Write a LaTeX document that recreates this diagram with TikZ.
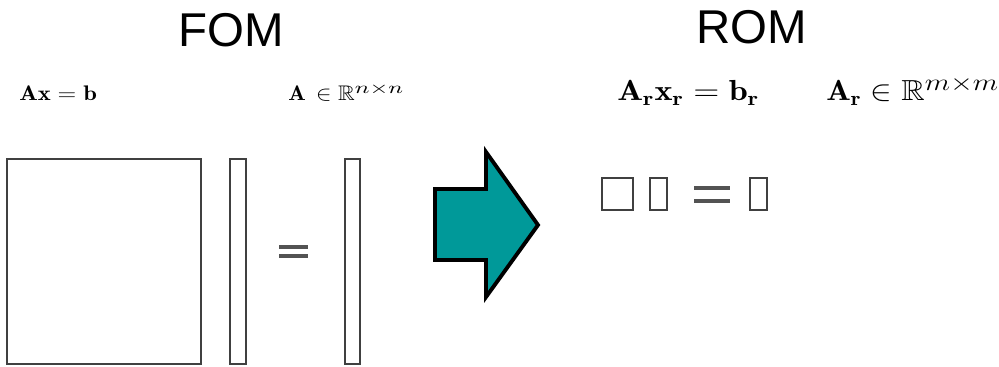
\documentclass[tikz,border=0pt]{standalone}
\usepackage{fix-cm}
\usepackage{amsmath,amssymb}
\usepackage{graphicx}
\usepackage{fontspec}
\newfontfamily\labelfont{Liberation Sans}
\definecolor{teal9}{HTML}{009999}
\definecolor{boxgray}{HTML}{404040}
\newcommand{\fomsup}[1]{\scalebox{1.29}[1]{\fontsize{9.5}{11}\selectfont$#1$}}
\newcommand{\romsup}[1]{\scalebox{1.11}[1]{\fontsize{13.5}{15}\selectfont$#1$}}
\tikzset{
  mbox/.style={draw=boxgray, line width=0.6pt},
  eqline/.style={draw=boxgray!90, line width=2pt},
  eqlinebig/.style={draw=boxgray!90, line width=2.3pt},
  bigarrow/.style={draw=black, line width=2.2pt, fill=teal9, line join=miter},
  title/.style={font=\labelfont\fontsize{27}{30}\selectfont, inner sep=0pt},
  fomeq/.style={anchor=base west, inner sep=0pt, font=\fontsize{12}{14}\selectfont},
  romeq/.style={anchor=base west, inner sep=0pt, font=\fontsize{16.5}{19}\selectfont}
}
\begin{document}
\begin{tikzpicture}[x=0.02cm,y=-0.02cm]
\useasboundingbox (0,0) rectangle (999,367);
% titles
\node[title] (fom) at (231,30) {FOM};
\node[title] (rom) at (752,27) {ROM};
% equations
\node[fomeq] (eqf) at (19,101) {\scalebox{1.166}[1]{$\mathbf{A}\mathbf{x}=\mathbf{b}$}};
\node[fomeq] (spf) at (288,101) {\scalebox{1.10}[1]{$\mathbf{A}\hspace{2pt}\in\mathbb{R}^{\fomsup{n{\times}n}}$}};
\node[romeq] (eqr) at (617,101) {\scalebox{1.18}[1]{$\mathbf{A}_{\mathbf{r}}\mathbf{x}_{\mathbf{r}}=\mathbf{b}_{\mathbf{r}}$}};
\node[romeq] (spr) at (826,101) {\scalebox{1.12}[1]{$\mathbf{A}_{\mathbf{r}}\in\mathbb{R}^{\romsup{m{\times}m}}$}};
% FOM matrices
\draw[mbox] (7,159) rectangle (201,364);
\draw[mbox] (230,159) rectangle (246,364);
\draw[mbox] (345,159) rectangle (360,364);
\draw[eqline] (279,247) -- (308,247);
\draw[eqline] (279,256) -- (308,256);
% arrow
\draw[bigarrow] (435,189) -- (486,189) -- (486,152) -- (538,225) -- (486,297) -- (486,260) -- (435,260) -- cycle;
% ROM matrices
\draw[mbox] (602,178) rectangle (633,210);
\draw[mbox] (650,178) rectangle (667,210);
\draw[mbox] (750,178) rectangle (767,210);
\draw[eqlinebig] (694,188) -- (730,188);
\draw[eqlinebig] (694,201) -- (730,201);
\end{tikzpicture}
\end{document}
